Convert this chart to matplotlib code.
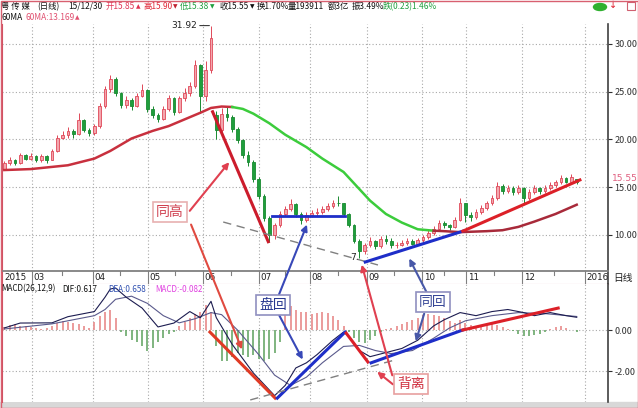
import matplotlib
matplotlib.use('Agg')
import matplotlib.pyplot as plt
from matplotlib.patches import Rectangle, FancyArrowPatch, Ellipse
import numpy as np

plt.rcParams['font.family'] = ['Noto Sans CJK SC', 'DejaVu Sans']

W, H = 638, 408

# ---- K线 (每根代表两个交易日) ----
opens = [16.9, 17.5, 17.9, 17.5, 18.4, 18.0, 18.3, 17.8, 18.3, 17.9,
         18.8, 20.2, 20.5, 20.9, 20.6, 22.0, 21.0, 20.7, 21.4, 23.5,
         25.3, 26.3, 24.9, 23.6, 24.1, 23.5, 24.6, 25.2, 23.2, 22.6,
         22.1, 23.2, 24.3, 22.9, 24.3, 24.9, 25.6, 27.8, 24.6, 27.3,
         22.6, 21.0, 22.7, 22.4, 21.1, 19.9, 18.4, 17.6, 15.9, 14.1,
         11.8, 10.0, 11.0, 12.2, 12.7, 13.2, 12.2, 11.6, 12.1, 12.3,
         12.4, 12.7, 13.0, 13.4, 13.3, 12.2, 11.0, 9.4, 8.3, 8.9,
         9.4, 8.8, 9.6, 9.4, 8.9, 9.0, 9.2, 9.4, 9.1, 9.5,
         9.8, 10.2, 10.6, 11.3, 11.0, 10.8, 11.6, 13.3, 12.1, 11.9,
         12.4, 12.8, 13.3, 13.9, 15.1, 14.6, 14.9, 14.5, 14.9, 13.9,
         14.5, 14.9, 14.6, 14.9, 15.2, 15.5, 16.0, 15.6, 15.85]
closes = [17.5, 17.9, 17.5, 18.4, 18.0, 18.3, 17.8, 18.3, 17.9, 18.8,
          20.2, 20.5, 20.9, 20.6, 22.0, 21.0, 20.7, 21.4, 23.5, 25.3,
          26.3, 24.9, 23.6, 24.1, 23.5, 24.6, 25.2, 23.2, 22.6, 22.1,
          23.2, 24.3, 22.9, 24.3, 24.9, 25.6, 27.8, 24.6, 27.3, 30.6,
          21.0, 22.7, 22.4, 21.1, 19.9, 18.4, 17.6, 15.9, 14.1, 11.8,
          10.0, 11.0, 12.2, 12.7, 13.2, 12.2, 11.6, 12.1, 12.3, 12.4,
          12.7, 13.0, 13.4, 13.3, 12.2, 11.0, 9.4, 8.3, 8.9, 9.4,
          8.8, 9.6, 9.4, 8.9, 9.0, 9.2, 9.4, 9.1, 9.5, 9.8,
          10.2, 10.6, 11.3, 11.0, 10.8, 11.6, 13.3, 12.1, 11.9, 12.4,
          12.8, 13.3, 13.9, 15.1, 14.6, 14.9, 14.5, 14.9, 13.9, 14.5,
          14.9, 14.6, 14.9, 15.2, 15.5, 16.0, 15.6, 16.1, 15.55]
highs = [17.7, 18.2, 18.0, 18.6, 18.5, 18.6, 18.4, 18.5, 18.4, 19.0,
         20.5, 20.9, 21.3, 21.1, 22.8, 22.1, 21.2, 21.6, 23.8, 25.6,
         26.8, 26.5, 25.0, 24.5, 24.3, 24.9, 25.8, 25.3, 23.5, 22.8,
         23.5, 24.7, 24.4, 24.6, 25.4, 26.0, 28.3, 27.9, 28.2, 31.92,
         23.0, 23.3, 23.4, 22.6, 21.3, 20.1, 18.8, 17.8, 16.1, 14.3,
         12.0, 11.3, 12.5, 13.0, 13.8, 13.3, 12.4, 12.4, 12.6, 12.8,
         13.0, 13.3, 13.7, 14.1, 13.4, 12.3, 11.1, 9.6, 9.2, 9.8,
         9.5, 9.9, 10.0, 9.7, 9.3, 9.5, 9.7, 9.6, 9.7, 10.0,
         10.5, 10.9, 11.6, 11.5, 11.2, 11.9, 13.9, 13.4, 12.4, 12.7,
         13.1, 13.6, 14.2, 15.5, 15.3, 15.2, 15.1, 15.2, 15.0, 14.8,
         15.2, 15.0, 15.2, 15.5, 15.8, 16.3, 16.1, 16.4, 15.90]
lows = [16.8, 17.3, 17.3, 17.4, 17.8, 17.8, 17.6, 17.6, 17.5, 17.8,
        18.7, 20.0, 20.2, 20.2, 20.5, 20.8, 20.4, 20.5, 21.2, 23.3,
        25.0, 24.6, 23.3, 23.3, 23.1, 23.4, 24.4, 22.9, 22.3, 21.8,
        22.0, 23.0, 22.6, 22.8, 24.0, 24.6, 25.4, 22.8, 24.0, 27.0,
        20.1, 20.6, 21.9, 20.8, 19.6, 18.1, 17.2, 15.6, 13.8, 11.5,
        9.3, 9.6, 10.8, 12.0, 12.5, 11.9, 11.2, 11.4, 11.9, 12.0,
        12.2, 12.5, 12.8, 13.0, 12.0, 10.8, 9.2, 7.6, 8.0, 8.7,
        8.5, 8.6, 9.1, 8.6, 8.6, 8.8, 9.0, 8.9, 8.9, 9.3,
        9.6, 10.0, 10.4, 10.7, 10.5, 10.7, 11.5, 11.4, 11.5, 11.7,
        12.2, 12.6, 13.1, 13.7, 14.3, 14.4, 14.2, 14.3, 13.4, 13.7,
        14.3, 14.3, 14.4, 14.7, 15.0, 15.3, 15.4, 15.5, 15.38]

# ---- 60日均线 ----
ma60_k = [0, 5, 12, 17, 20, 24, 28, 31, 34, 37, 39, 41, 43, 45, 47, 50, 53, 57,
          60, 62, 64, 66, 69, 72, 75, 78, 81, 83, 86, 91, 94, 97, 100, 104, 108]
ma60_v = [16.8, 16.9, 17.3, 18.0, 18.8, 20.1, 20.9, 21.4, 22.1, 22.8, 23.3, 23.45,
          23.4, 23.2, 22.7, 21.7, 20.5, 19.2, 18.0, 17.3, 16.6, 15.4, 13.6, 12.2,
          11.3, 10.6, 10.45, 10.4, 10.3, 10.4, 10.5, 10.85, 11.4, 12.2, 13.17]

# ---- MACD ----
dif_k = [0, 3, 9, 12, 17, 19, 20, 21, 23, 26, 29, 32, 35, 37, 38, 39, 40, 43, 47,
         51, 53, 55, 57, 59, 62, 64, 65, 67, 69, 72, 75, 78, 81, 83, 86, 89, 92,
         95, 98, 100, 103, 106, 108]
dif_v = [0.1, 0.34, 0.35, 0.65, 0.9, 1.6, 2.0, 2.05, 1.6, 1.07, 0.15, 0.34, 0.9,
         0.6, 1.0, 1.4, 0.6, -0.7, -2.1, -3.2, -2.7, -1.85, -1.6, -1.2, -0.5,
         -0.1, -0.3, -1.0, -1.3, -1.1, -0.9, -0.5, 0.2, 0.5, 0.85, 0.7, 0.9,
         1.0, 0.85, 0.7, 0.85, 0.7, 0.62]
dea_k = [0, 9, 17, 19, 21, 24, 27, 30, 33, 36, 39, 41, 44, 48, 51, 54, 57, 60,
         64, 67, 70, 73, 77, 81, 84, 87, 92, 97, 102, 108]
dea_v = [0.05, 0.3, 0.7, 1.0, 1.5, 1.65, 1.3, 0.7, 0.35, 0.55, 0.85, 0.75, 0.0,
         -1.2, -2.2, -2.7, -2.3, -1.6, -0.8, -0.75, -1.0, -1.15, -1.0, -0.4, 0.1,
         0.45, 0.7, 0.85, 0.8, 0.66]
macd_hist = [0.15, 0.25, 0.3, 0.2, 0.2, 0.15, 0.1, 0.05, 0.1, 0.2,
             0.35, 0.45, 0.4, 0.35, 0.3, 0.2, 0.1,
             0.4, 0.7, 0.9, 1.0, 0.6,
             -0.1, -0.3, -0.5, -0.6, -0.8, -1.0, -0.9, -0.6,
             -0.4, -0.2, -0.1,
             0.2, 0.4, 0.6, 0.8, 0.9, 1.2, 0.9,
             -0.8, -1.5, -1.5, -1.3, -1.1, -1.2, -1.3, -1.2, -1.4, -1.5, -1.4, -1.1, -0.6,
             0.8, 1.15, 1.0, 0.9, 0.9, 0.8,
             0.85, 0.9, 0.85, 0.7, 0.5, 0.2,
             -0.1, -0.4, -0.6, -0.65, -0.5, -0.3,
             -0.1, 0.05, 0.1, 0.2, 0.3,
             0.4, 0.5, 0.6, 0.75, 0.8, 0.75, 0.7, 0.6,
             0.45, 0.35, 0.5, 0.35, 0.25, 0.2, 0.2, 0.25, 0.3, 0.25,
             0.15, 0.05, -0.05,
             -0.2, -0.3, -0.3, -0.25, -0.2, -0.1,
             0.05, 0.15, 0.2, 0.1, 0.0, -0.08]

month_labels = ['2015', '03', '04', '05', '06', '07', '08', '09', '10', '11', '12', '2016']
month_pos = [-0.25, 5.2, 16.7, 27.1, 37.5, 48.1, 57.7, 68.4, 78.8, 87.1, 97.7, 109.6]

price_ticks = [10, 15, 20, 25, 30]
macd_ticks = [0, -2]


def box(x0, y0, x1, y1):
    return [x0 / W, 1 - y1 / H, (x1 - x0) / W, (y1 - y0) / H]


def fp(x, y):
    return (x / W, 1 - y / H)


fig = plt.figure(figsize=(6.38, 4.08), dpi=100)
fig.patch.set_facecolor('white')

ax_p = fig.add_axes(box(2, 24, 608, 271))
ax_d = fig.add_axes(box(2, 271, 608, 284))
ax_m = fig.add_axes(box(2, 284, 608, 402))

XL = (-0.434, 113.9)
for a in (ax_p, ax_d, ax_m):
    a.set_xlim(*XL)
    a.set_facecolor('white')
    a.set_xticks([])
    for s in a.spines.values():
        s.set_linewidth(0.8)
    a.spines['left'].set_color('#d05060')
    a.spines['right'].set_color('#404040')
    a.spines['right'].set_linewidth(1.2)

ax_p.set_ylim(6.23, 32.09)
ax_m.set_ylim(-3.51, 2.244)

# 网格
for a in (ax_p, ax_m):
    for p in month_pos[1:]:
        a.axvline(p, color='#a8a8a8', lw=0.8, ls=(0, (1, 2)), zorder=0)
    a.spines['top'].set_visible(False)
    a.spines['bottom'].set_visible(False)
for t in price_ticks:
    ax_p.axhline(t, color='#a8a8a8', lw=0.8, ls=(0, (1, 2)), zorder=0)
for t in macd_ticks:
    ax_m.axhline(t, color='#a8a8a8', lw=0.8, ls=(0, (1, 2)), zorder=0)

# 右侧坐标
for a, ticks in ((ax_p, price_ticks), (ax_m, macd_ticks)):
    a.yaxis.tick_right()
    a.set_yticks(ticks)
    a.set_yticklabels(['%.2f' % t for t in ticks])
    a.tick_params(axis='y', direction='out', length=3, width=0.8, pad=1.5,
                  labelsize=6.5, colors='#303030')

# K线
x = np.arange(len(closes))
o = np.array(opens)
c = np.array(closes)
up = c >= o
ax_p.vlines(x[up], np.array(lows)[up], np.array(highs)[up], color='#e04858', lw=0.7, zorder=2)
ax_p.vlines(x[~up], np.array(lows)[~up], np.array(highs)[~up], color='#188a30', lw=0.7, zorder=2)
body = np.maximum(np.abs(c - o), 0.08)
ax_p.bar(x[up], body[up], bottom=o[up], width=0.5, color='#f3a6ae',
         edgecolor='#e04858', lw=0.6, zorder=3)
ax_p.bar(x[~up], body[~up], bottom=c[~up], width=0.5, color='#1f9e3c',
         edgecolor='#188a30', lw=0.6, zorder=3)

# 60MA
mk = np.array(ma60_k)
mv = np.array(ma60_v)
seg1 = mk <= 43
seg2 = (mk >= 43) & (mk <= 81)
seg3 = mk >= 81
ax_p.plot(mk[seg1], mv[seg1], color='#c8303e', lw=1.8, zorder=4)
ax_p.plot(mk[seg2], mv[seg2], color='#3ccc3c', lw=1.8, zorder=4)
ax_p.plot(mk[seg3], mv[seg3], color='#a82a3a', lw=1.8, zorder=4)

# 最高/最低标注
hi_k = int(np.argmax(highs))
ax_p.annotate('%.2f' % highs[hi_k], xy=(hi_k - 0.3, highs[hi_k]), xytext=(-9, 0),
              textcoords='offset points', ha='right', va='center', fontsize=6.5,
              color='#202020', family='DejaVu Sans',
              arrowprops=dict(arrowstyle='-', lw=0.7, color='#202020', shrinkA=0, shrinkB=0))
lo_k = int(np.argmin(lows))
ax_p.text(lo_k - 0.2, lows[lo_k], '7.', ha='right', va='center', fontsize=6.5,
          color='#202020', family='DejaVu Sans', zorder=6)

# 画线
BLUE = '#1e2ec8'
RED = '#dc2028'
ax_p.plot([39.3, 49.8], [22.9, 9.3], color='#cc1c2c', lw=2.2, zorder=5)
ax_p.plot([41.3, 70.5], [11.36, 6.86], color='#808080', lw=1.0, ls=(0, (6, 4)), zorder=5)
ax_p.plot([50.5, 64.3], [12.0, 12.0], color=BLUE, lw=2.0, zorder=5)
ax_p.plot([68.1, 86.5], [7.17, 10.4], color=BLUE, lw=2.2, zorder=5)
ax_p.plot([86.5, 108.6], [10.4, 15.76], color=RED, lw=2.2, zorder=5)

# MACD
hist = np.array(macd_hist)
hx = np.arange(len(hist))
ax_m.vlines(hx[hist >= 0], 0, hist[hist >= 0], color='#e88a8a', lw=1.2, zorder=2)
ax_m.vlines(hx[hist < 0], 0, hist[hist < 0], color='#6aa86a', lw=1.2, zorder=2)
ax_m.plot(dea_k, dea_v, color='#5a5a8c', lw=0.8, zorder=3)
ax_m.plot(dif_k, dif_v, color='#1c1c50', lw=0.8, zorder=3)

ax_m.plot([38.8, 51.1], [-0.1, -3.32], color='#e03a24', lw=2.2, zorder=5)
ax_m.plot([51.5, 64.3], [-3.32, -0.1], color=BLUE, lw=2.2, zorder=5)
ax_m.plot([64.5, 68.6], [-0.15, -1.56], color=RED, lw=2.2, zorder=5)
ax_m.plot([69.2, 86.5], [-1.6, 0.0], color=BLUE, lw=2.2, zorder=5)
ax_m.plot([86.5, 104.5], [0.0, 1.07], color=RED, lw=2.2, zorder=5)
ax_m.plot([46.4, 73.7], [-3.41, -1.46], color='#808080', lw=1.0, ls=(0, (6, 4)), zorder=5)

# 日期栏
ax_d.set_ylim(0, 1)
ax_d.set_yticks([])
ax_d.spines['top'].set_color('#808080')
ax_d.spines['top'].set_linewidth(1.3)
ax_d.spines['bottom'].set_color('#e0a0b0')
for p in month_pos[1:]:
    ax_d.axvline(p, color='#808080', lw=0.8)
mids = [(month_pos[i] + month_pos[i + 1]) / 2 for i in range(len(month_pos) - 1)]
for p in mids:
    ax_d.plot([p, p], [1, 0.7], color='#808080', lw=0.8)
for p, lab in zip(month_pos, month_labels):
    ax_d.text(p + 0.3, 0.5, lab, ha='left', va='center', fontsize=6.3,
              color='#202020', family='DejaVu Sans')
fig.text(613 / W, 1 - 277.5 / H, '日线', fontsize=7, va='center', ha='left', color='#202020')


# 顶部信息: 文字 + 小三角
def put(sx, sy, s, col, tri=None, tri_col=None, size=6.0):
    t = fig.text(sx / W, 1 - sy / H, s, fontsize=size, color=col, va='center', ha='left',
                 zorder=10)
    if tri:
        ax_p.annotate(tri, xy=(1, 0.5), xycoords=t, xytext=(0.6, 0),
                      textcoords='offset points', va='center', ha='left',
                      fontsize=4.2, color=tri_col or col, family='DejaVu Sans',
                      annotation_clip=False, zorder=10)
    return t


hdr = [(1, '粤 传 媒', '#101010', None, None), (37, '(日线)', '#101010', None, None),
       (68, '15/12/30', '#101010', None, None),
       (106, '开15.85', '#e03858', '▲', '#e03050'),
       (143, '高15.90', '#e02838', '▼', '#c02030'),
       (180, '低15.38', '#20a040', '▼', '#20a040'),
       (220, '收15.55', '#101010', '▼', '#101010'),
       (257, '换1.70%', '#101010', None, None), (288, '量193911', '#101010', None, None),
       (328, '额3亿', '#101010', None, None), (352, '振3.49%', '#101010', None, None),
       (383, '跌(0.23)1.46%', '#20a040', None, None)]
for sx, s, col, tri, tcol in hdr:
    put(sx, 6.5, s, col, tri, tcol)
put(1, 17.5, '60MA', '#101010')
put(25, 17.5, '60MA:13.169', '#e05070', '▲', '#e05070')

for sx, s, col, tri, tcol in [(1, 'MACD(26,12,9)', '#101010', None, None),
                              (62, 'DIF:0.617', '#101010', '▼', '#208040'),
                              (108, 'DEA:0.658', '#3050b0', '▼', '#208040'),
                              (155, 'MACD:-0.082', '#e040e0', '▼', '#208040')]:
    put(sx, 289, s, col, tri, tcol, size=5.8)

fig.text(612 / W, 1 - 178.5 / H, '15.55', fontsize=6.5, color='#e06080', va='center',
         ha='left', family='DejaVu Sans')

# 箭头与标注框
arrows = [((188, 213), (231, 160), '#e04050'), ((190, 222), (243, 352), '#e04a40'),
          ((278, 297), (308, 222), '#3848b8'), ((278, 313), (304, 362), '#3848b8'),
          ((428, 295), (408, 256), '#4858a8'), ((425, 311), (415, 344), '#4858a8'),
          ((395, 386), (375, 370), '#e04050'), ((393, 378), (361, 262), '#e04050')]
for a0, a1, col in arrows:
    fig.add_artist(FancyArrowPatch(fp(*a0), fp(*a1), transform=fig.transFigure,
                                   arrowstyle='-|>', mutation_scale=9, color=col,
                                   lw=1.5, zorder=8))

labels = [(170, 212, '同高', '#d04050', '#e8b0b0'), (273, 305, '盘回', '#283890', '#9090c0'),
          (433, 302, '同回', '#384898', '#9090c0'), (411, 384, '背离', '#d03040', '#e8a0a0')]
for lx, ly, s, col, ec in labels:
    fig.text(lx / W, 1 - ly / H, s, fontsize=10, color=col, ha='center', va='center',
             zorder=12, bbox=dict(boxstyle='square,pad=0.22', fc='white', ec=ec, lw=1.2))

# 边框和装饰
fig.add_artist(Rectangle((0, 0), 1, 6 / H, transform=fig.transFigure, color='#d8d8d8', zorder=0))
fig.add_artist(Rectangle((0.5 / W, 0.5 / H), 1 - 1 / W, 1 - 1 / H, transform=fig.transFigure,
                         fill=False, ec='#d86070', lw=1.0, zorder=20))
fig.add_artist(Ellipse(fp(600, 7), 13 / W, 7 / H, transform=fig.transFigure,
                       color='#30b030', zorder=10))
fig.add_artist(Rectangle(fp(627, 10), 8 / W, 8 / H, transform=fig.transFigure,
                         fill=False, ec='#d06070', lw=0.8, zorder=10))
fig.text(613 / W, 1 - 5 / H, '↓', fontsize=7, color='#e02030', ha='center', va='center',
         family='DejaVu Sans')

fig.savefig('out.png', dpi=100)
